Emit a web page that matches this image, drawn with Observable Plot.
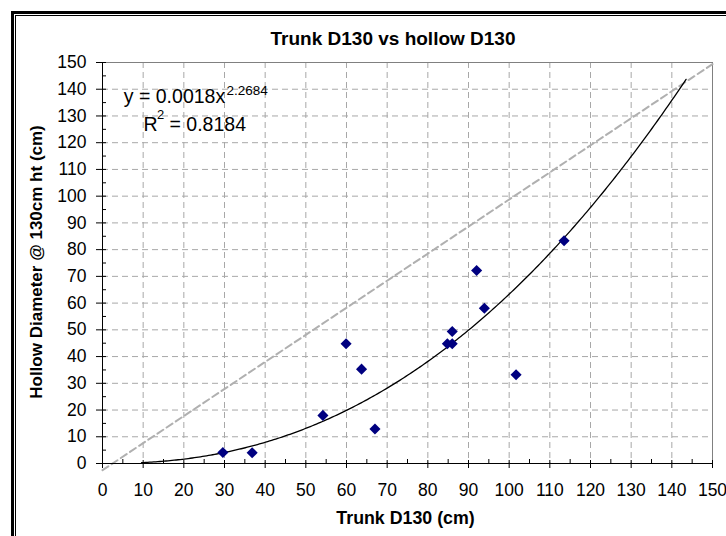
<!DOCTYPE html>
<html>
<head>
<meta charset="utf-8">
<script src="https://cdn.jsdelivr.net/npm/d3@7"></script>
<script src="https://cdn.jsdelivr.net/npm/@observablehq/plot@0.6"></script>
<style>
  html, body { margin: 0; padding: 0; background: #fff; overflow: hidden; }
  #wrap { position: relative; width: 726px; height: 536px; overflow: hidden; background: #fff; }
  #chart { position: absolute; left: 0; top: 0; }
  .edge-outer { position: absolute; left: 11px; top: 11px; width: 900px; height: 900px;
                border-left: 3px solid #000; border-top: 3px solid #000; }
  .edge-inner { position: absolute; left: 15px; top: 15px; width: 900px; height: 900px;
                border-left: 1px solid #000; border-top: 1px solid #000; }
</style>
</head>
<body>
<div id="wrap">
  <div class="edge-outer"></div>
  <div class="edge-inner"></div>
  <div id="chart"></div>
</div>
<script>
// Trunk diameter at 130 cm vs hollow diameter at 130 cm
const trunkD130  = [29.6, 36.8, 54.2, 59.9, 63.7, 67.0, 84.8, 86.0, 86.0, 92.0, 93.9, 101.7, 113.5];
const hollowD130 = [4.1, 4.0, 18.0, 44.8, 35.3, 12.9, 44.8, 44.8, 49.4, 72.2, 58.1, 33.2, 83.3];

// Power trendline y = a·x^b and its goodness of fit
const fitA = 0.00184;
const fitB = 2.2684;
const fitR2 = 0.8184;
const trendFrom = 9.6;   // backward forecast start
const trendTo = 143.5;   // forward forecast end

// Dashed reference line (1:1)
const refX = [0, 150];
const refY = [-2.5, 149.4];

// Axis ticks
const majorTicks = [0, 10, 20, 30, 40, 50, 60, 70, 80, 90, 100, 110, 120, 130, 140, 150];
const minorTicks = [5, 15, 25, 35, 45, 55, 65, 75, 85, 95, 105, 115, 125, 135, 145];

const titleText = "Trunk D130 vs hollow D130";
const xLabel = "Trunk D130 (cm)";
const yLabel = "Hollow Diameter @ 130cm ht (cm)";

const points = trunkD130.map((x, i) => ({x, y: hollowD130[i]}));
const refLine = refX.map((x, i) => ({x, y: refY[i]}));
const trend = d3.range(trendFrom, trendTo, 0.5).concat([trendTo])
  .map(x => ({x, y: fitA * Math.pow(x, fitB)}));

const W = 726, H = 536;
const mL = 102, mR = 14, mT = 62, mB = 73;
const plotW = W - mL - mR;
const plotH = H - mT - mB;
const gridTicks = majorTicks.filter(d => d > 0 && d < 150);

// equation label pieces, anchored to the plot's top-left corner
const label = (txt, dx, dy, size, anchor = "start") =>
  Plot.text([txt], {text: d => d, frameAnchor: "top-left", textAnchor: anchor,
    dx, dy, fontSize: size, lineAnchor: "middle"});

const chart = Plot.plot({
  width: W,
  height: H,
  marginLeft: mL,
  marginRight: mR,
  marginTop: mT,
  marginBottom: mB,
  style: {
    fontFamily: "'Liberation Sans', Arial, sans-serif",
    fontSize: "17.5px",
    color: "#000",
    background: "transparent",
    overflow: "visible"
  },
  x: {domain: [0, 150]},
  y: {domain: [0, 150]},
  marks: [
    // dashed grid
    Plot.ruleX(gridTicks, {x: d => d, stroke: "#a8a8a8", strokeDasharray: "6,4"}),
    Plot.ruleY(gridTicks, {y: d => d, stroke: "#a8a8a8", strokeDasharray: "6,4"}),
    // plot-area edges
    Plot.ruleY([150], {stroke: "#808080"}),
    Plot.ruleX([150], {stroke: "#808080"}),
    // tick labels
    Plot.axisX(majorTicks, {tickSize: 0, tickPadding: 20, label: null}),
    Plot.axisY(majorTicks, {tickSize: 0, tickPadding: 16, label: null}),
    // reference line and trendline
    Plot.line(refLine, {x: "x", y: "y", stroke: "#b0b0b0", strokeWidth: 2, strokeDasharray: "7,4"}),
    Plot.line(trend, {x: "x", y: "y", stroke: "#000", strokeWidth: 1.3}),
    // axis lines
    Plot.ruleX([0], {stroke: "#000"}),
    Plot.ruleY([0], {stroke: "#000"}),
    // tick marks: major cross the axis, minor point inward
    Plot.tickX(majorTicks, {x: d => d, insetTop: plotH - 8, dy: 5, stroke: "#000"}),
    Plot.tickX(minorTicks, {x: d => d, insetTop: plotH - 4, stroke: "#000"}),
    Plot.tickY(majorTicks, {y: d => d, insetRight: plotW - 10, dx: -6, stroke: "#000"}),
    Plot.tickY(minorTicks, {y: d => d, insetRight: plotW - 4, stroke: "#000"}),
    // observations
    Plot.dot(points, {x: "x", y: "y", symbol: "diamond2", r: 5, fill: "#000080", stroke: "none"}),
    // titles
    Plot.text([titleText], {text: d => d, frameAnchor: "top", dx: -14.5, dy: -23.6,
      fontSize: 19, fontWeight: "bold", textAnchor: "middle", lineAnchor: "middle"}),
    Plot.text([xLabel], {text: d => d, frameAnchor: "bottom", dx: -2, dy: 55,
      fontSize: 17.8, fontWeight: "bold", textAnchor: "middle", lineAnchor: "middle"}),
    Plot.text([yLabel], {text: d => d, frameAnchor: "left", rotate: -90, dx: -66, dy: -1,
      fontSize: 17, fontWeight: "bold", textAnchor: "middle", lineAnchor: "middle"}),
    // trendline equation and R²
    label(`y = ${fitA.toFixed(4)}x`, 21.3, 34.5, 19.5),
    label(fitB.toFixed(4), 124, 28, 13.5),
    label("R", 41, 62.7, 19.5),
    label("2", 54.5, 52, 13),
    label(`= ${fitR2.toFixed(4)}`, 143.5, 62.7, 19.5, "end")
  ]
});

document.getElementById("chart").appendChild(chart);
</script>
</body>
</html>
